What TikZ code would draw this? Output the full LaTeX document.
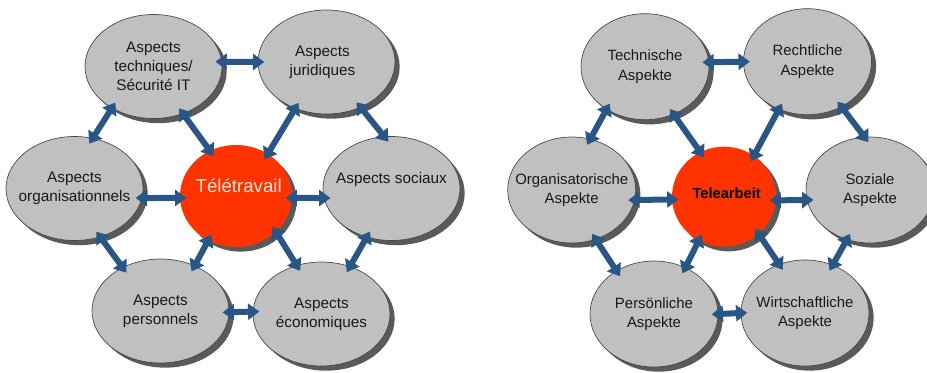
\documentclass[tikz,border=0pt]{standalone}
\usepackage{fontspec}
\setmainfont{Liberation Sans}
\usetikzlibrary{shapes.geometric,shadows,arrows.meta}

\definecolor{ringfill}{RGB}{192,192,192}
\definecolor{ringline}{RGB}{70,70,70}
\definecolor{shadowgray}{RGB}{90,90,90}
\definecolor{hubred}{RGB}{255,51,0}
\definecolor{hubtext}{RGB}{255,232,222}
\definecolor{linkblue}{RGB}{42,86,134}

\tikzset{
  aspect/.style={ellipse, draw=ringline, line width=0.5pt, fill=ringfill, inner sep=0pt,
    minimum width=102.75pt, minimum height=78pt,
    drop shadow={shadow xshift=3.5pt, shadow yshift=-3.5pt, fill=shadowgray, opacity=1}},
  aspectde/.style={aspect, minimum width=96pt, minimum height=79.5pt},
  hub/.style={ellipse, fill=hubred, inner sep=0pt,
    drop shadow={shadow xshift=3.5pt, shadow yshift=-3.5pt, fill=shadowgray, opacity=1}},
  frtext/.style={align=center, text=black!90, font=\fontsize{11.5}{14.3}\selectfont},
  detext/.style={align=center, text=black!90, font=\fontsize{11.2}{14.5}\selectfont},
  link/.style={{Triangle[width=12pt,length=8.5pt]}-{Triangle[width=12pt,length=8.5pt]},
    draw=linkblue, line width=4.5pt, shorten <=-5pt, shorten >=-5pt},
}

\begin{document}
\begin{tikzpicture}[x=0.75pt, y=-0.75pt]
  \useasboundingbox (0,0) rectangle (927,372);

  % French diagram
  \node[aspect, label={[frtext]center:Aspects\\techniques/\\Sécurité IT}] (techfr) at (153.5,66.5) {};
  \node[aspect, label={[frtext, xshift=-3pt]center:Aspects\\juridiques}] (jurfr) at (326.5,62) {};
  \node[aspect, label={[frtext]center:Aspects\\organisationnels}] (orgfr) at (74.5,188.5) {};
  \node[aspect, label={[frtext, yshift=6.4pt]center:Aspects sociaux}] (socfr) at (391.5,188.5) {};
  \node[aspect, label={[frtext]center:Aspects\\personnels}] (perfr) at (160.5,311) {};
  \node[aspect, label={[frtext]center:Aspects\\économiques}] (ecofr) at (321.5,314) {};
  \node[hub, minimum width=84pt, minimum height=76.5pt,
    label={[text=hubtext, font=\fontsize{14}{17}\selectfont, xshift=2pt, yshift=8pt]center:Télétravail}] (hubfr) at (236,196) {};

  \draw[link] (techfr.4) -- (jurfr.180);
  \draw[link] (techfr.225) -- (orgfr.70);
  \draw[link] (techfr.302) -- (hubfr.120);
  \draw[link] (jurfr.236) -- (hubfr.53);
  \draw[link] (jurfr.307) -- (socfr.98);
  \draw[link] (orgfr.-8) -- (hubfr.182);
  \draw[link] (hubfr.358) -- (socfr.188);
  \draw[link] (orgfr.298) -- (perfr.131);
  \draw[link] (hubfr.238) -- (perfr.53);
  \draw[link] (hubfr.318) -- (ecofr.117);
  \draw[link] (socfr.243) -- (ecofr.59);
  \draw[link] (perfr.-1) -- (ecofr.178);

  % German diagram
  \node[aspectde, label={[detext]center:Technische\\Aspekte}] (techde) at (645,66.7) {};
  \node[aspectde, label={[detext]center:Rechtliche\\Aspekte}] (rechtde) at (807.5,61.7) {};
  \node[aspectde, label={[detext]center:Organisatorische\\Aspekte}] (orgde) at (571.7,190) {};
  \node[aspectde, label={[detext]center:Soziale\\Aspekte}] (sozde) at (870,190) {};
  \node[aspectde, label={[detext]center:Persönliche\\Aspekte}] (perde) at (654,314) {};
  \node[aspectde, label={[detext]center:Wirtschaftliche\\Aspekte}] (wirtde) at (805,313) {};
  \node[hub, minimum width=78pt, minimum height=75pt,
    label={[font=\fontsize{11}{13}\bfseries\selectfont, xshift=2pt, yshift=2.5pt]center:Telearbeit}] (hubde) at (724,196.7) {};

  \draw[link] (techde.4) -- (rechtde.180);
  \draw[link] (techde.228) -- (orgde.70);
  \draw[link] (techde.301) -- (hubde.118);
  \draw[link] (rechtde.239) -- (hubde.54);
  \draw[link] (rechtde.307) -- (sozde.96);
  \draw[link] (orgde.-9) -- (hubde.183);
  \draw[link] (hubde.356) -- (sozde.189);
  \draw[link] (orgde.296) -- (perde.131);
  \draw[link] (hubde.240) -- (perde.56);
  \draw[link] (hubde.313) -- (wirtde.118);
  \draw[link] (sozde.245) -- (wirtde.60);
  \draw[link] (perde.0) -- (wirtde.180);
\end{tikzpicture}
\end{document}
